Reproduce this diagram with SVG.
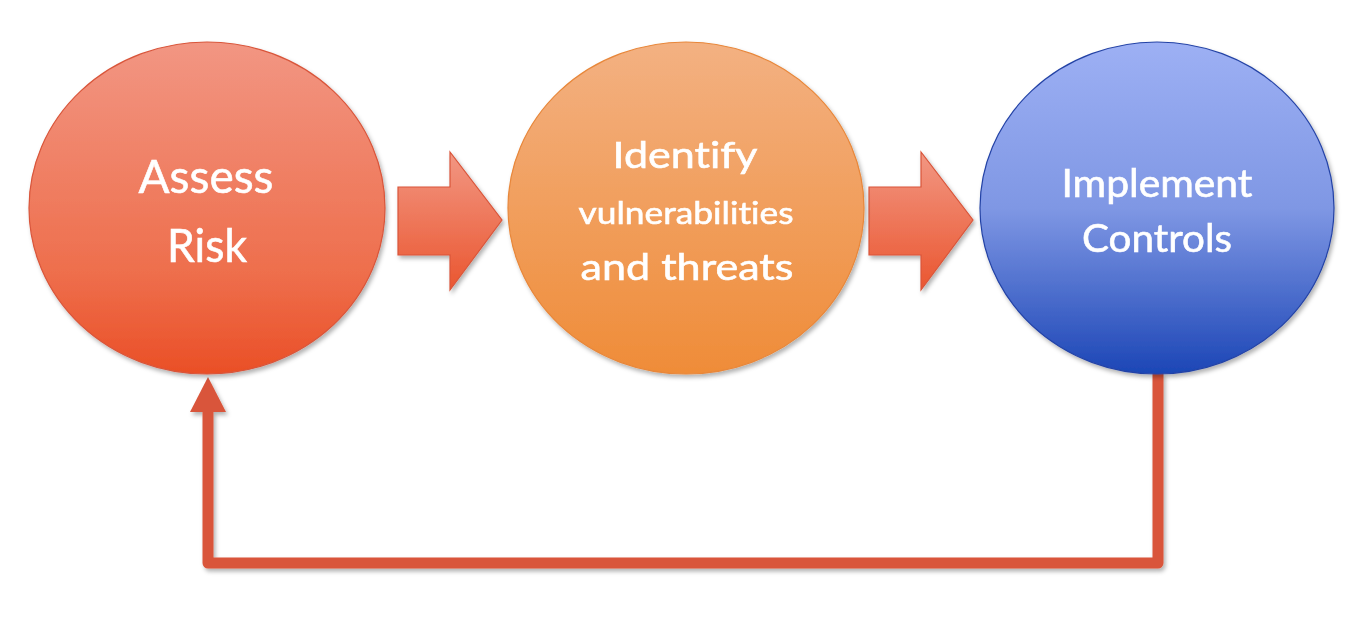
<svg xmlns="http://www.w3.org/2000/svg" width="1362" height="620" viewBox="0 0 1362 620">
<defs>
<linearGradient id="gRed" x1="0" y1="0" x2="0" y2="1">
<stop offset="0" stop-color="#F29683"/>
<stop offset="0.7" stop-color="#EE6E4C"/>
<stop offset="1" stop-color="#EA4F26"/>
</linearGradient>
<linearGradient id="gOrange" x1="0" y1="0" x2="0" y2="1">
<stop offset="0" stop-color="#F3B182"/>
<stop offset="1" stop-color="#EF8C38"/>
</linearGradient>
<linearGradient id="gBlue" x1="0" y1="0" x2="0" y2="1">
<stop offset="0" stop-color="#9DB0F4"/>
<stop offset="0.5" stop-color="#7F97E4"/>
<stop offset="1" stop-color="#1C46B6"/>
</linearGradient>
<linearGradient id="gArrow" x1="0" y1="0" x2="0" y2="1">
<stop offset="0" stop-color="#F29783"/>
<stop offset="1" stop-color="#EA5630"/>
</linearGradient>
<filter id="sh" x="-10%" y="-10%" width="125%" height="125%">
<feDropShadow dx="2" dy="3" stdDeviation="2" flood-color="#000" flood-opacity="0.3"/>
</filter>
</defs>
<style>
.lbl{font-family:Lato,"Noto Sans",sans-serif;fill:#fff;text-anchor:middle;font-variant-ligatures:none;stroke:#fff;stroke-width:0.6}
.arr{fill:url(#gArrow);stroke:#D9553A;stroke-width:1.2}
.conn{fill:none;stroke:#D9553A;stroke-width:11;stroke-linejoin:round}
</style>
<g id="connectors" filter="url(#sh)">
<path class="conn" d="M1158,373 V563 H208 V410"/>
<polygon points="208,377 226,412 190,412" fill="#D9553A"/>
</g>
<g id="arrow1" filter="url(#sh)">
<polygon class="arr" points="398,187 450,187 450,152 502,220 450,290 450,255 398,255"/>
</g>
<g id="arrow2" filter="url(#sh)">
<polygon class="arr" points="869,187 921,187 921,152 973,220 921,290 921,255 869,255"/>
</g>
<g id="assess" filter="url(#sh)">
<ellipse cx="207" cy="208" rx="178" ry="166" fill="url(#gRed)" stroke="#D9553A" stroke-width="1.2"/>
<text class="lbl" x="206" y="193" font-size="47" textLength="135" lengthAdjust="spacingAndGlyphs">Assess</text>
<text class="lbl" x="207" y="262" font-size="47" textLength="80" lengthAdjust="spacingAndGlyphs">Risk</text>
</g>
<g id="identify" filter="url(#sh)">
<ellipse cx="686" cy="208" rx="178" ry="166" fill="url(#gOrange)" stroke="#E8873A" stroke-width="1.2"/>
<text class="lbl" x="685" y="168" font-size="37" textLength="145" lengthAdjust="spacingAndGlyphs">Identify</text>
<text class="lbl" x="686" y="224" font-size="31" textLength="215" lengthAdjust="spacingAndGlyphs">vulnerabilities</text>
<text class="lbl" x="687" y="280" font-size="37" textLength="213" lengthAdjust="spacingAndGlyphs">and threats</text>
</g>
<g id="implement" filter="url(#sh)">
<ellipse cx="1157" cy="208" rx="177" ry="166" fill="url(#gBlue)" stroke="#2443A6" stroke-width="1.2"/>
<text class="lbl" x="1157" y="197" font-size="39" textLength="191" lengthAdjust="spacingAndGlyphs">Implement</text>
<text class="lbl" x="1157" y="252" font-size="39" textLength="150" lengthAdjust="spacingAndGlyphs">Controls</text>
</g>
</svg>
